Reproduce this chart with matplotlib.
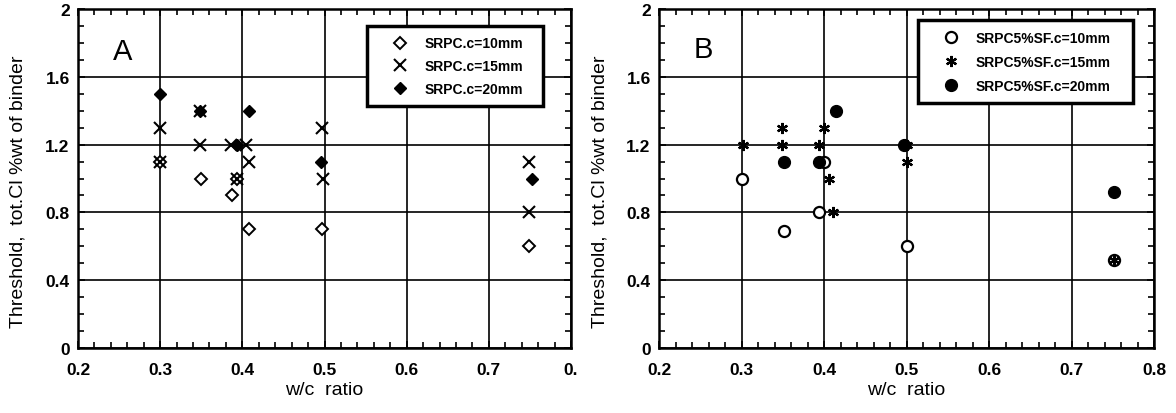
import matplotlib
matplotlib.use("Agg")
import matplotlib.pyplot as plt
from matplotlib.ticker import MultipleLocator

plt.rcParams['font.family'] = ['Liberation Sans', 'DejaVu Sans']

# Panel A data (SRPC)
a10_x = [0.30, 0.35, 0.388, 0.393, 0.408, 0.497, 0.749]
a10_y = [1.10, 1.00, 0.90, 1.00, 0.70, 0.70, 0.60]
a15_x = [0.30, 0.30, 0.348, 0.348, 0.386, 0.404, 0.408, 0.393, 0.497, 0.498, 0.749, 0.749]
a15_y = [1.30, 1.10, 1.40, 1.20, 1.20, 1.20, 1.10, 1.00, 1.30, 1.00, 1.10, 0.80]
a20_x = [0.30, 0.348, 0.408, 0.393, 0.496, 0.752]
a20_y = [1.50, 1.40, 1.40, 1.20, 1.10, 1.00]

# Panel B data (SRPC 5% SF)
b10_x = [0.301, 0.352, 0.394, 0.400, 0.500, 0.752]
b10_y = [1.00, 0.69, 0.80, 1.10, 0.60, 0.52]
b15_x = [0.302, 0.349, 0.349, 0.394, 0.400, 0.406, 0.411, 0.500, 0.500, 0.752]
b15_y = [1.20, 1.30, 1.20, 1.20, 1.30, 1.00, 0.80, 1.20, 1.10, 0.52]
b20_x = [0.351, 0.394, 0.414, 0.497, 0.752]
b20_y = [1.10, 1.10, 1.40, 1.20, 0.92]

xticks = [0.2, 0.3, 0.4, 0.5, 0.6, 0.7, 0.8]
a_xlabels = ['0.2', '0.3', '0.4', '0.5', '0.6', '0.7', '0.']
b_xlabels = ['0.2', '0.3', '0.4', '0.5', '0.6', '0.7', '0.8']
yticks = [0, 0.4, 0.8, 1.2, 1.6, 2.0]
ylabels = ['0', '0.4', '0.8', '1.2', '1.6', '2']

fig = plt.figure(figsize=(11.76, 4.14), dpi=100)
axA = fig.add_axes([78/1176, 65/414, 493/1176, 339/414])
axB = fig.add_axes([659/1176, 65/414, 495/1176, 339/414])


def style_axis(ax, xlabels, letter, lx, ly, ylab_x):
    ax.set_xlim(0.2, 0.8)
    ax.set_ylim(0, 2.0)
    ax.set_xticks(xticks)
    ax.set_xticklabels(xlabels, fontsize=12.5, fontweight='bold')
    ax.set_yticks(yticks)
    ax.set_yticklabels(ylabels, fontsize=12.5, fontweight='bold')
    ax.xaxis.set_minor_locator(MultipleLocator(0.02))
    ax.yaxis.set_minor_locator(MultipleLocator(0.1))
    ax.tick_params(which='both', direction='in', top=True, right=True, width=1.2)
    ax.tick_params(which='major', length=5)
    ax.tick_params(which='minor', length=4)
    ax.tick_params(axis='x', which='major', pad=10)
    ax.tick_params(axis='y', which='major', pad=6)
    ax.grid(True, which='major', color='black', linewidth=1.2)
    ax.set_axisbelow(True)
    for s in ax.spines.values():
        s.set_linewidth(1.8)
    ax.set_xlabel('w/c  ratio', fontsize=14, labelpad=3)
    ax.set_ylabel('Threshold,  tot.Cl %wt of binder', fontsize=14)
    ax.yaxis.set_label_coords(ylab_x, 0.463)
    ax.text(lx, ly, letter, transform=ax.transAxes, fontsize=21,
            ha='center', va='center')


def add_legend(ax, box, spacing):
    leg = ax.legend(loc='upper left', bbox_to_anchor=box, mode='expand',
                    borderaxespad=0, prop={'weight': 'bold', 'size': 10},
                    fancybox=False, edgecolor='black', framealpha=1,
                    borderpad=0.75, handlelength=3.3, handletextpad=0.1,
                    labelspacing=spacing, numpoints=1)
    leg.get_frame().set_linewidth(2.5)


# Panel A
axA.plot(a10_x, a10_y, linestyle='none', marker='D', markersize=6,
         markerfacecolor='white', markeredgecolor='black', markeredgewidth=1.4,
         label='SRPC.c=10mm', zorder=3)
axA.plot(a15_x, a15_y, linestyle='none', marker='x', markersize=8,
         color='black', markeredgewidth=1.5, label='SRPC.c=15mm', zorder=4)
axA.plot(a20_x, a20_y, linestyle='none', marker='D', markersize=6,
         color='black', label='SRPC.c=20mm', zorder=3)
style_axis(axA, a_xlabels, 'A', 0.091, 0.876, -0.105)
add_legend(axA, (0.586, 0.95, 0.357, 0.0), 0.62)

# Panel B
axB.plot(b10_x, b10_y, linestyle='none', marker='o', markersize=8,
         markerfacecolor='white', markeredgecolor='black', markeredgewidth=1.6,
         label='SRPC5%SF.c=10mm', zorder=3)
axB.plot(b15_x, b15_y, linestyle='none', marker=(6, 2, 0), markersize=8,
         color='black', markeredgewidth=1.6, label='SRPC5%SF.c=15mm', zorder=4)
axB.plot(b20_x, b20_y, linestyle='none', marker='o', markersize=8.5,
         color='black', label='SRPC5%SF.c=20mm', zorder=3)
style_axis(axB, b_xlabels, 'B', 0.089, 0.882, -0.103)
add_legend(axB, (0.523, 0.967, 0.434, 0.0), 0.72)

fig.savefig('out.png', dpi=100)
